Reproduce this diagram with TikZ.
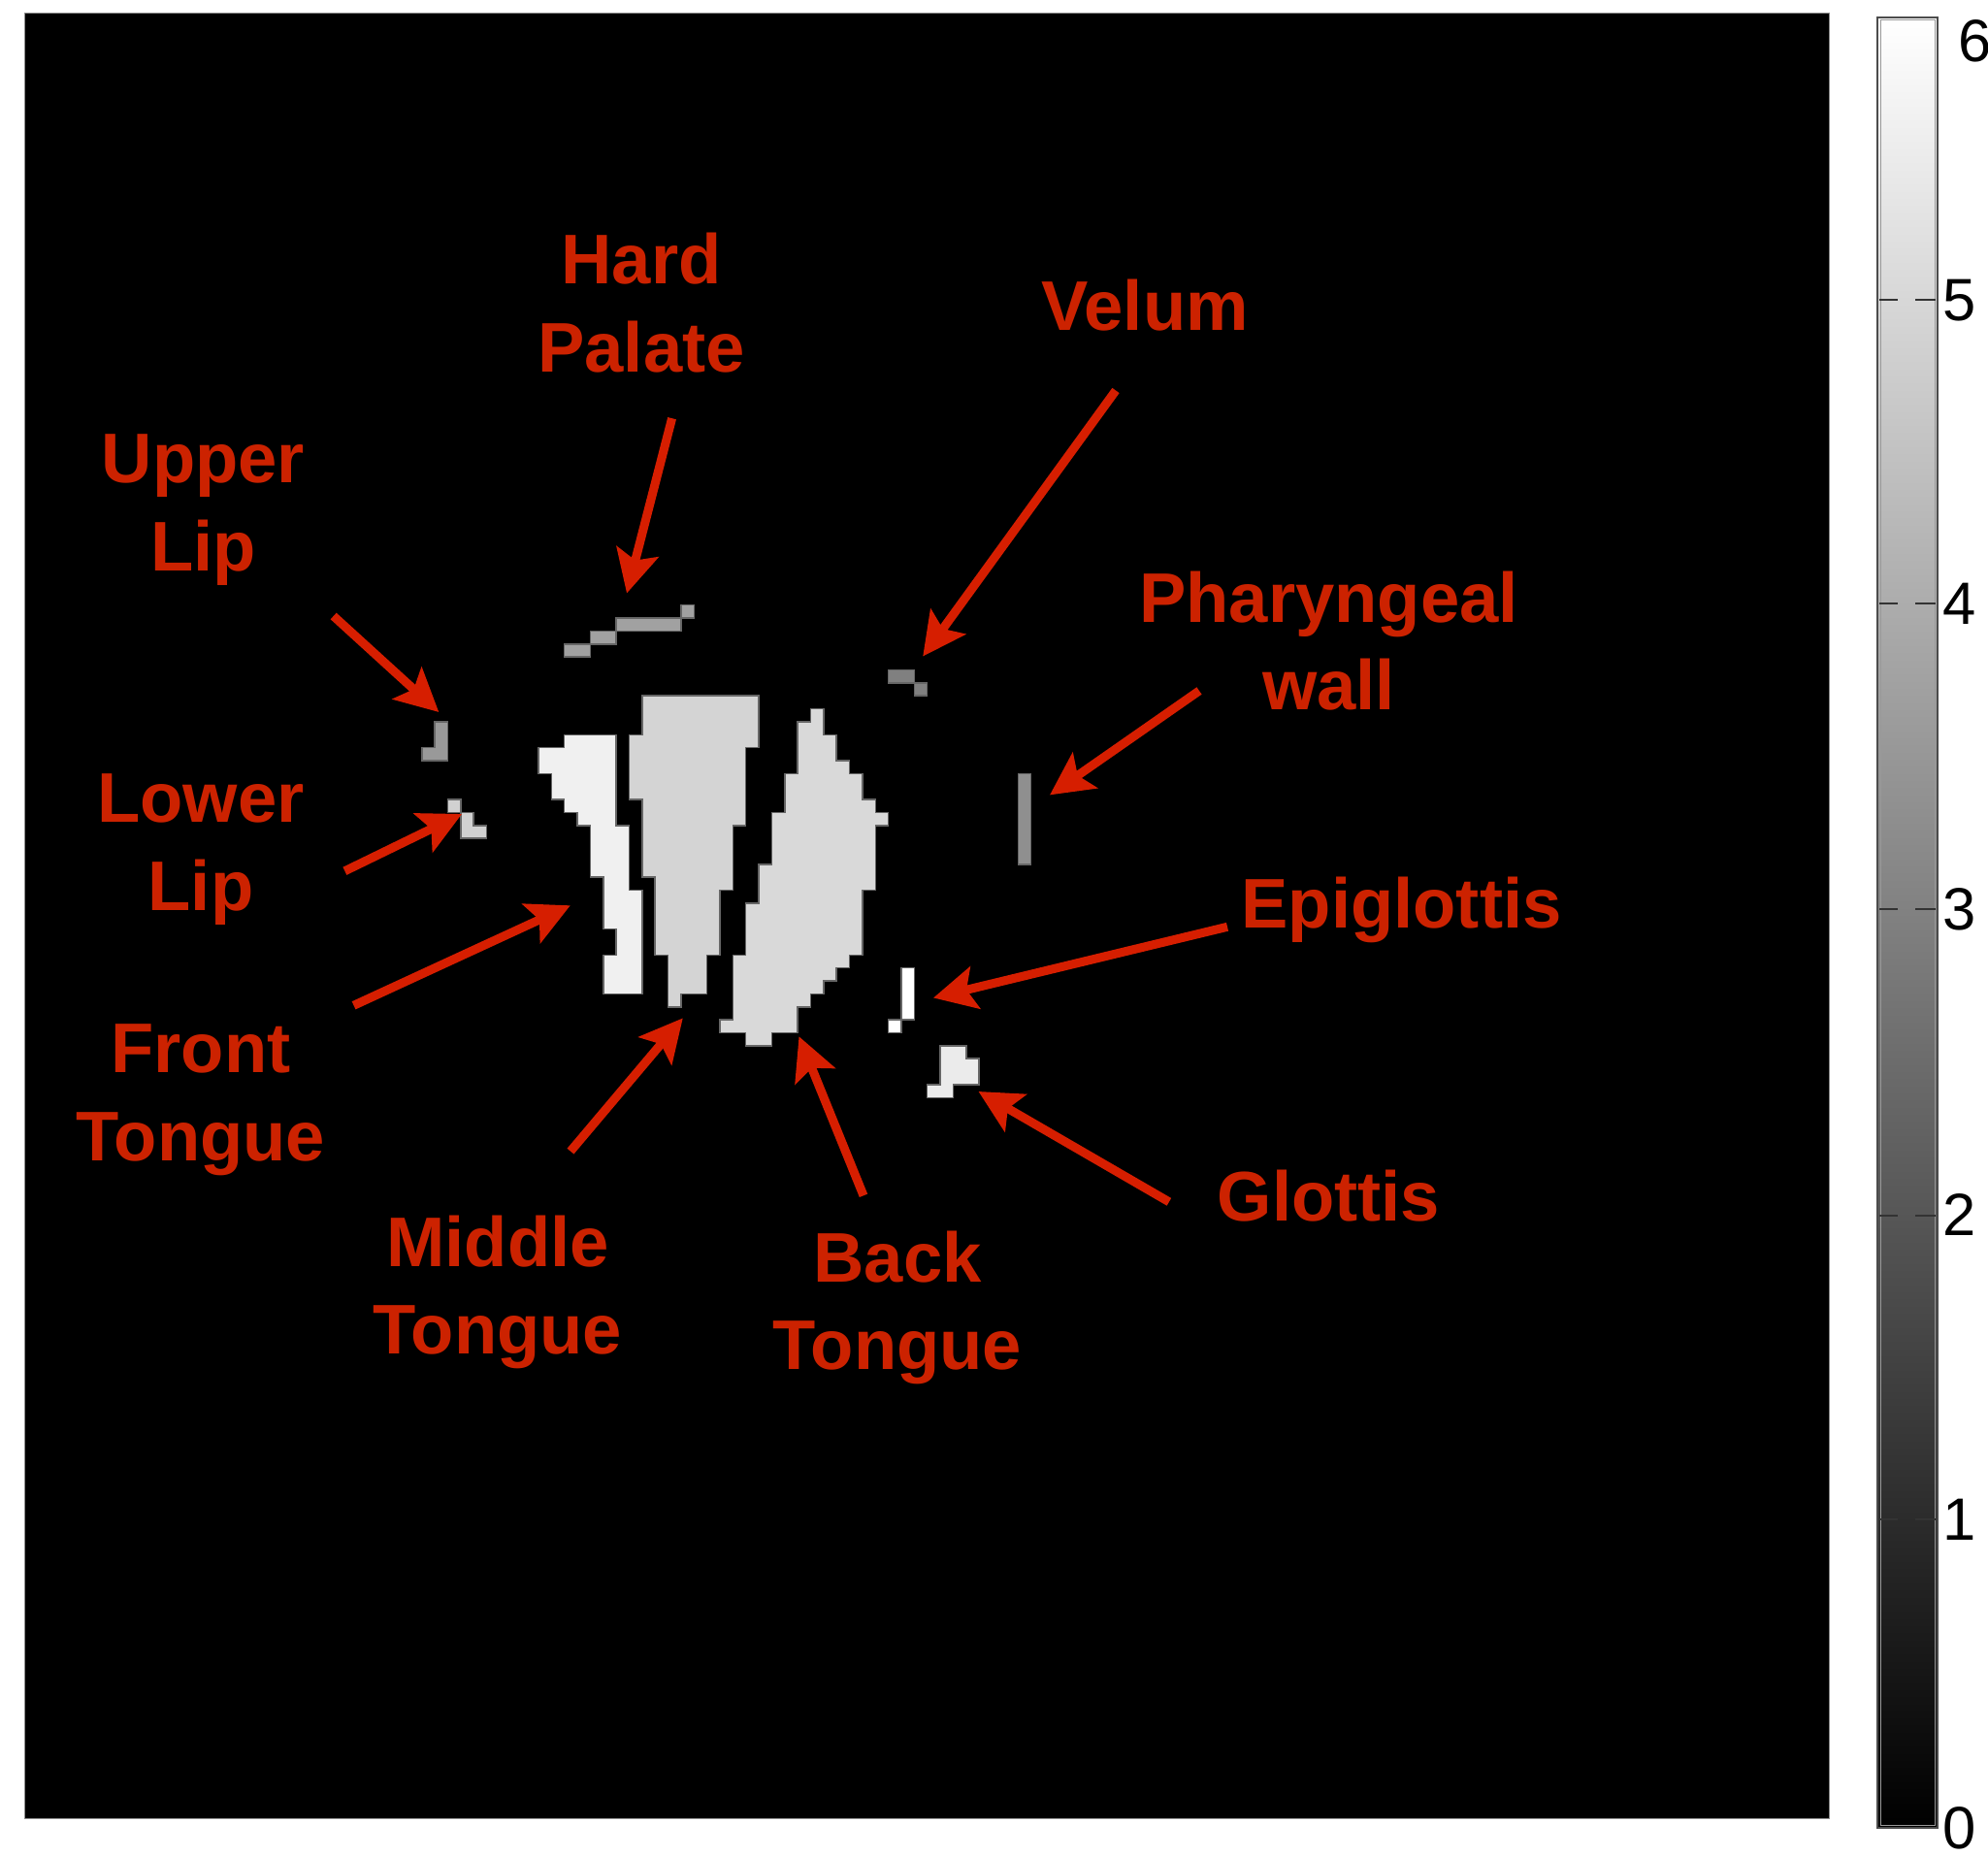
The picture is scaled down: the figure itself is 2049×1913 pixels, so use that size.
\documentclass[tikz,border=0pt]{standalone}
\usepackage{fontspec}
\setmainfont{Liberation Sans}
\usetikzlibrary{arrows.meta, positioning, calc}
\definecolor{labred}{RGB}{204,34,0}
\definecolor{arrred}{RGB}{214,30,0}
\tikzset
{%
blob/.style={draw=black!60, line width=0.015cm},
tag/.style={text=labred, font=\bfseries\fontsize{20.6}{25.75}\selectfont, align=center, inner sep=0pt, anchor=north},
arr/.style={draw=arrred, line width=0.09cm, -{Stealth[length=0.44cm, width=0.44cm, inset=0.09cm]}},
cbtick/.style={draw=black!80, line width=0.02cm},
num/.style={font=\fontsize{17.5}{17.5}\selectfont, inner sep=0pt, anchor=west}
}

\begin{document}
\begin{tikzpicture}[x=0.01cm, y=-0.01cm]
	\useasboundingbox (0,0) rectangle (2049,1913);
	\fill[white] (0,0) rectangle (2049,1913);
	\draw[fill=black, draw=black!45, line width=0.015cm] (25.7,13.3) rectangle (1885.7,1874.3);

	% label map, one unit per voxel
	\begin{scope}[shift={(555,757.3)}, x=0.1335cm, y=-0.1335cm]
		% lips
		\draw[blob, fill=white!60!black] (-8,-1) -- (-7,-1) -- (-7,2) -- (-9,2) -- (-9,1) -- (-8,1) -- cycle;
		\draw[blob, fill=white!82!black] (-7,5) rectangle (-6,6);
		\draw[blob, fill=white!82!black] (-6,6) -- (-5,6) -- (-5,7) -- (-4,7) -- (-4,8) -- (-6,8) -- cycle;
		% hard palate and velum
		\foreach \a/\b/\c/\d in {2/-7/4/-6, 4/-8/6/-7, 6/-9/11/-8, 11/-10/12/-9}
			\draw[blob, fill=white!63!black] (\a,\b) rectangle (\c,\d);
		\draw[blob, fill=white!50!black] (27,-5) rectangle (29,-4);
		\draw[blob, fill=white!50!black] (29,-4) rectangle (30,-3);
		% tongue
		\draw[blob, fill=white!94!black] (2,0) -- (6,0) -- (6,7) -- (7,7) -- (7,12) -- (8,12) -- (8,20) -- (5,20)
			-- (5,17) -- (6,17) -- (6,15) -- (5,15) -- (5,11) -- (4,11) -- (4,7) -- (3,7) -- (3,6) -- (2,6)
			-- (2,5) -- (1,5) -- (1,3) -- (0,3) -- (0,1) -- (2,1) -- cycle;
		\draw[blob, fill=white!83!black] (8,-3) -- (17,-3) -- (17,1) -- (16,1) -- (16,7) -- (15,7) -- (15,12)
			-- (14,12) -- (14,17) -- (13,17) -- (13,20) -- (11,20) -- (11,21) -- (10,21) -- (10,17) -- (9,17)
			-- (9,11) -- (8,11) -- (8,5) -- (7,5) -- (7,0) -- (8,0) -- cycle;
		\draw[blob, fill=white!85!black] (21,-2) -- (22,-2) -- (22,0) -- (23,0) -- (23,2) -- (24,2) -- (24,3)
			-- (25,3) -- (25,5) -- (26,5) -- (26,6) -- (27,6) -- (27,7) -- (26,7) -- (26,12) -- (25,12)
			-- (25,17) -- (24,17) -- (24,18) -- (23,18) -- (23,19) -- (22,19) -- (22,20) -- (21,20) -- (21,21)
			-- (20,21) -- (20,23) -- (18,23) -- (18,24) -- (16,24) -- (16,23) -- (14,23) -- (14,22) -- (15,22)
			-- (15,17) -- (16,17) -- (16,13) -- (17,13) -- (17,10) -- (18,10) -- (18,6) -- (19,6) -- (19,3)
			-- (20,3) -- (20,-1) -- (21,-1) -- cycle;
		% pharynx and larynx
		\draw[blob, fill=white!56!black] (37,3) rectangle (38,10);
		\draw[blob, fill=white] (28,18) rectangle (29,22);
		\draw[blob, fill=white] (27,22) rectangle (28,23);
		\draw[blob, fill=white!92!black] (31,24) -- (33,24) -- (33,25) -- (34,25) -- (34,27) -- (32,27) -- (32,28)
			-- (30,28) -- (30,27) -- (31,27) -- cycle;
	\end{scope}

	% colour bar
	\shade[bottom color=black, top color=white] (1935,18) rectangle (1997,1884);
	\draw[black!70, line width=0.02cm] (1935,18) rectangle (1997,1884);
	\draw[black!40, line width=0.01cm] (1938,21) rectangle (1994,1881);
	\foreach \ty in {309.5, 622, 937, 1252.5, 1566} {
		\draw[cbtick] (1937,\ty) -- ++(19,0);
		\draw[cbtick] (1995,\ty) -- ++(-21,0);
	}
	\foreach \v/\ty in {5/309.5, 4/622, 3/937, 2/1252.5, 1/1566, 0/1884}
		\node[num] (n\v) at (2002,\ty) {\v};
	\node[num] (n6) at (2018,42) {6};

	\node[tag] (hp) at (661,239.5) {Hard\\Palate};
	\node[tag] (vl) at (1180,287.6) {Velum};
	\node[tag] (ul) at (209.5,447) {Upper\\Lip};
	\node[tag] (pw) at (1369.5,588) {Pharyngeal\\wall};
	\node[tag] (ll) at (207,797) {Lower\\Lip};
	\node[tag] (ep) at (1444.5,903) {Epiglottis};
	\node[tag] (ft) at (207,1055) {Front\\Tongue};
	\node[tag] (mt) at (513,1252) {Middle\\Tongue};
	\node[tag] (bt) at (925,1268) {Back\\Tongue};
	\node[tag] (gl) at (1369.5,1205) {Glottis};

	\coordinate (hpA) at (692.6,431.2);	\coordinate (hpB) at (646,611.5);
	\coordinate (vlA) at (1150,402.5);	\coordinate (vlB) at (951.2,676.5);
	\coordinate (ulA) at (343.7,635);	\coordinate (ulB) at (452.3,734);
	\coordinate (pwA) at (1236,712);	\coordinate (pwB) at (1082,819.4);
	\coordinate (llA) at (355.4,897.8);	\coordinate (llB) at (476,839);
	\coordinate (ftA) at (364.6,1036.3);	\coordinate (ftB) at (587.8,933.3);
	\coordinate (mtA) at (588,1186.6);	\coordinate (mtB) at (703.8,1049.4);
	\coordinate (btA) at (890,1232.3);	\coordinate (btB) at (823.5,1068.3);
	\coordinate (epA) at (1265,955.3);	\coordinate (epB) at (962,1028.5);
	\coordinate (glA) at (1204.9,1238.8);	\coordinate (glB) at (1008.5,1125);

	\path (hpA) edge[arr] (hpB) (vlA) edge[arr] (vlB) (ulA) edge[arr] (ulB) (pwA) edge[arr] (pwB) (llA) edge[arr] (llB);
	\path (ftA) edge[arr] (ftB) (mtA) edge[arr] (mtB) (btA) edge[arr] (btB) (epA) edge[arr] (epB) (glA) edge[arr] (glB);
\end{tikzpicture}
\end{document}
